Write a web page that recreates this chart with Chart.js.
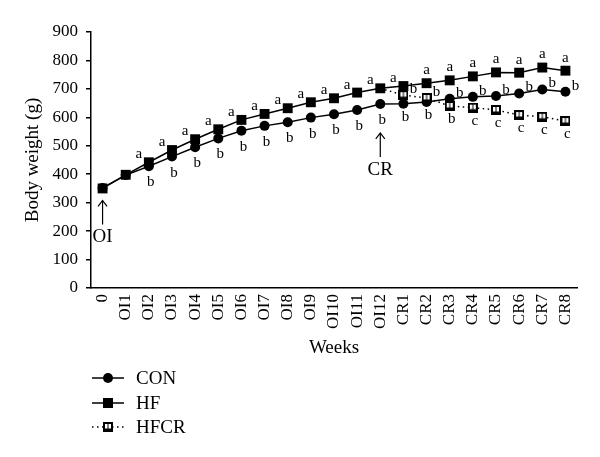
<!DOCTYPE html>
<html><head><meta charset="utf-8">
<script src="https://cdn.jsdelivr.net/npm/chart.js@4"></script>
<style>html,body{margin:0;padding:0;background:#fff;}canvas{display:block;}</style>
</head><body>
<canvas id="c" width="600" height="457"></canvas>
<script>
const weeks = ['0','OI1','OI2','OI3','OI4','OI5','OI6','OI7','OI8','OI9','OI10','OI11','OI12',
               'CR1','CR2','CR3','CR4','CR5','CR6','CR7','CR8'];
const conValues  = [352,397,428,462,495,526,553,570,583,599,611,626,647,648,654,665,672,675,684,698,690];
const hfValues   = [350,398,442,485,523,558,591,612,632,653,667,687,702,710,720,730,744,758,757,775,764];
const hfcrValues = [null,null,null,null,null,null,null,null,null,null,null,null,702,678,668,640,634,626,608,602,587];
const conLetters  = ['','','b','b','b','b','b','b','b','b','b','b','b','b','b','b','b','b','b','b','b'];
const hfLetters   = ['','','a','a','a','a','a','a','a','a','a','a','a','a','a','a','a','a','a','a','a'];
const hfcrLetters = ['','','','','','','','','','','','','','b','b','b','c','c','c','c','c'];
const seriesNames = ['CON','HF','HFCR'];
const arrowNotes = [{text:'OI', index:0}, {text:'CR', index:12}];
const yMin = 0, yMax = 900, yStep = 100;

const SERIF = '"Liberation Serif", "DejaVu Serif", serif';

function makeHfcrMarker(){
  const c = document.createElement('canvas'); c.width = 10; c.height = 10;
  const g = c.getContext('2d');
  g.fillStyle = '#000'; g.fillRect(0,0,10,10);
  g.fillStyle = '#fff'; g.fillRect(2,2,2.5,4.5); g.fillRect(5.5,2,2.5,4.5);
  return c;
}
const hfcrMarker = makeHfcrMarker();

const extrasPlugin = {
  id: 'extras',
  afterDatasetsDraw(chart){
    const ctx = chart.ctx;
    const xs = chart.scales.x, ys = chart.scales.y;
    ctx.save();
    ctx.fillStyle = '#000'; ctx.strokeStyle = '#000';
    // significance letters
    ctx.font = '15px ' + SERIF;
    ctx.textAlign = 'center'; ctx.textBaseline = 'middle';
    const sets = [[conValues, conLetters],[hfValues, hfLetters],[hfcrValues, hfcrLetters]];
    for (let i = 0; i < weeks.length; i++){
      const items = sets.filter(s => s[1][i] && s[0][i] != null)
                        .map(s => ({v:s[0][i], t:s[1][i]}))
                        .sort((a,b) => b.v - a.v);
      const px = xs.getPixelForValue(i);
      items.forEach((it, k) => {
        const py = ys.getPixelForValue(it.v);
        let dx, dy;
        if (k === 0) { dx = i <= 13 ? -10 : 0; dy = i <= 13 ? -8 : -13; }
        else if (k === items.length - 1) { dx = 2; dy = items.length === 3 ? 13 : 16; }
        else { dx = 10; dy = -6; }
        ctx.fillText(it.t, px + dx, py + dy);
      });
    }
    // arrows with notes
    ctx.lineWidth = 1.2;
    arrowNotes.forEach(n => {
      const px = xs.getPixelForValue(n.index);
      const vmin = Math.min(conValues[n.index], hfValues[n.index]);
      const py = ys.getPixelForValue(vmin);
      const tip = py + (n.index === 0 ? 12 : 29);
      const tail = tip + 24;
      ctx.beginPath();
      ctx.moveTo(px, tail); ctx.lineTo(px, tip);
      ctx.moveTo(px - 4.5, tip + 6); ctx.lineTo(px, tip); ctx.lineTo(px + 4.5, tip + 6);
      ctx.stroke();
      ctx.font = '19px ' + SERIF;
      ctx.fillText(n.text, px, tail + 13);
    });
    // legend
    const rows = [378, 403, 427];
    chart.data.datasets.forEach((ds, k) => {
      const y = rows[k];
      ctx.beginPath();
      ctx.lineWidth = 1.5;
      ctx.setLineDash(ds.borderDash || []);
      ctx.moveTo(92, y); ctx.lineTo(124, y); ctx.stroke();
      ctx.setLineDash([]);
      const st = ds.legendStyle;
      if (st === 'circle') { ctx.beginPath(); ctx.arc(108, y, 5, 0, Math.PI*2); ctx.fill(); }
      else if (st === 'rect') { ctx.fillRect(103, y - 5, 10, 10); }
      else { ctx.drawImage(hfcrMarker, 103, y - 5); }
      ctx.font = '19px ' + SERIF;
      ctx.textAlign = 'left';
      ctx.fillText(ds.label, 136, y + 1);
      ctx.textAlign = 'center';
    });
    ctx.restore();
  }
};

new Chart(document.getElementById('c'), {
  type: 'line',
  data: {
    labels: weeks,
    datasets: [
      { label: seriesNames[0], data: conValues, borderColor:'#000', backgroundColor:'#000',
        borderWidth:1.5, pointStyle:'circle', pointRadius:5, pointBackgroundColor:'#000',
        pointBorderWidth:0, tension:0, order:3, legendStyle:'circle' },
      { label: seriesNames[1], data: hfValues, borderColor:'#000', backgroundColor:'#000',
        borderWidth:1.5, pointStyle:'rect', pointRadius:7, pointBackgroundColor:'#000',
        pointBorderWidth:0, tension:0, order:2, legendStyle:'rect' },
      { label: seriesNames[2], data: hfcrValues, borderColor:'#000', backgroundColor:'#fff',
        borderWidth:1.5, borderDash:[1.5,3.5], pointStyle: hfcrMarker,
        pointRadius: c => c.dataIndex === 12 ? 0 : 5,
        tension:0, order:1, spanGaps:false, legendStyle:'img' }
    ]
  },
  options: {
    responsive:false, animation:false,
    layout: { padding: { left:0, right:23, top:32, bottom:98 } },
    plugins: { legend:{display:false}, tooltip:{enabled:false} },
    scales: {
      x: {
        offset:true,
        grid:{ display:false, drawTicks:false },
        border:{ color:'#000', width:1.5 },
        ticks:{ color:'#000', font:{ family:SERIF, size:17 }, minRotation:90, maxRotation:90, padding:6, autoSkip:false },
        title:{ display:true, text:'Weeks', color:'#000', font:{ family:SERIF, size:19 }, padding:0 },
        afterFit(s){ s.height = 71; }
      },
      y: {
        min:yMin, max:yMax,
        grid:{ display:true, drawOnChartArea:false, drawTicks:true, tickLength:5, color:'#000', lineWidth:1.5 },
        border:{ color:'#000', width:1.5 },
        ticks:{ stepSize:yStep, color:'#000', font:{ family:SERIF, size:17 }, padding:8 },
        title:{ display:true, text:'Body weight (g)', color:'#000', font:{ family:SERIF, size:19 }, padding:{top:22,bottom:0} },
        afterFit(s){ s.width = 91; }
      }
    }
  },
  plugins:[extrasPlugin]
});
</script>
</body></html>
